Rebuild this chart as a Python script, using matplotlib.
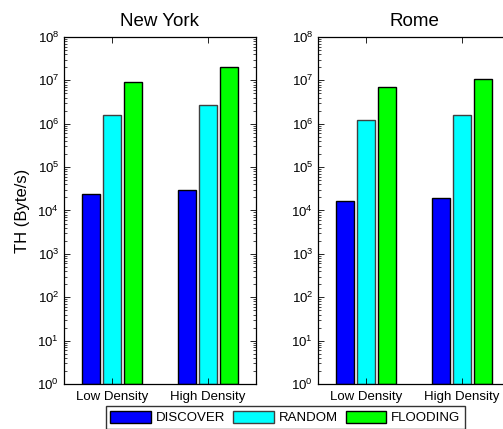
import matplotlib
matplotlib.use('Agg')
import matplotlib.pyplot as plt
import matplotlib.ticker as mticker
import numpy as np

plt.rcParams['font.family'] = ['Liberation Sans', 'DejaVu Sans']
plt.rcParams['mathtext.fontset'] = 'custom'
plt.rcParams['mathtext.rm'] = 'Liberation Sans'
plt.rcParams['mathtext.it'] = 'Liberation Sans:italic'

# throughput per city, density level x protocol
densities = ['Low Density', 'High Density']
protocols = ['DISCOVER', 'RANDOM', 'FLOODING']
colors    = ['#0000ff', '#00ffff', '#00ff00']
edges     = ['#000000', '#404040', '#000000']

new_york_discover = [2.4e4, 3.0e4]
new_york_random   = [1.55e6, 2.7e6]
new_york_flooding = [9.2e6, 2.05e7]

rome_discover = [1.65e4, 1.95e4]
rome_random   = [1.2e6, 1.55e6]
rome_flooding = [7.0e6, 1.1e7]

cities = [('New York', [new_york_discover, new_york_random, new_york_flooding]),
          ('Rome',     [rome_discover, rome_random, rome_flooding])]

fig = plt.figure(figsize=(5.03, 4.29), dpi=100)
ax_left  = fig.add_axes([0.1272, 0.1049, 0.3817, 0.8089])
ax_right = fig.add_axes([0.6322, 0.1049, 0.3817, 0.8089])

x = np.arange(1, len(densities) + 1)
offset = 0.22
width  = 0.19
handles = []
for ax, (city, series) in zip([ax_left, ax_right], cities):
    for i, vals in enumerate(series):
        b = ax.bar(x + (i - 1) * offset, vals, width, bottom=1,
                   color=colors[i], edgecolor=edges[i], linewidth=1.0,
                   label=protocols[i])
        if ax is ax_left:
            handles.append(b)
    ax.set_yscale('log')
    ax.set_ylim(1, 1e8)
    ax.set_xlim(0.5, 2.5)
    ax.set_xticks(x)
    ax.set_xticklabels(densities, fontsize=9)
    ax.yaxis.set_major_locator(mticker.LogLocator(base=10, numticks=10))
    ax.yaxis.set_minor_locator(mticker.LogLocator(base=10, subs=np.arange(2, 10), numticks=10))
    ax.yaxis.set_minor_formatter(mticker.NullFormatter())
    ax.tick_params(axis='both', which='both', direction='in', top=True, right=True)
    ax.tick_params(axis='both', which='major', length=4, labelsize=9.5, width=0.6)
    ax.tick_params(axis='y', which='minor', length=2, width=0.5)
    ax.tick_params(axis='x', pad=5)
    for sp in ax.spines.values():
        sp.set_linewidth(0.9)
    ax.set_title(city, fontsize=13.5, pad=8)

ax_left.set_ylabel('TH (Byte/s)', fontsize=12, labelpad=5)

fig.legend(handles, protocols, loc='upper center', bbox_to_anchor=(0.567, 0.0536),
           ncol=3, fontsize=9.5, frameon=True, fancybox=False, edgecolor='black',
           handlelength=3.1, handleheight=1.1, handletextpad=0.35, columnspacing=0.6,
           borderpad=0.35, borderaxespad=0)

fig.savefig('out.png', dpi=100)
